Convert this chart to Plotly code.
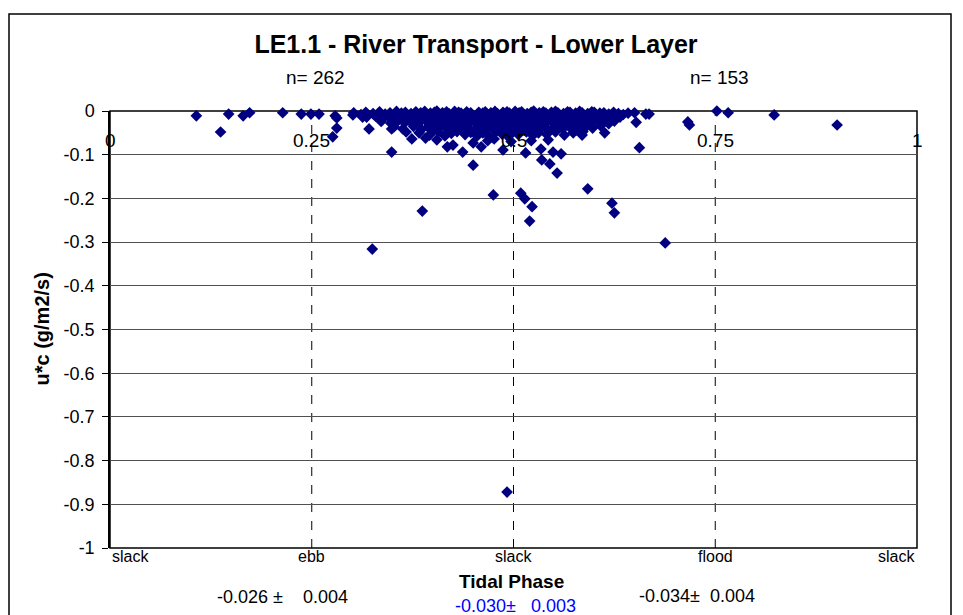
import plotly.graph_objects as go

# ---------------- data ----------------
# dense band of small (near-zero) transports around slack water
band_points = [
    (0.302,-0.004),(0.311,-0.008),(0.317,-0.003),(0.326,-0.006),(0.334,-0.002),(0.341,-0.007),
    (0.347,-0.004),(0.355,-0.001),(0.361,-0.005),(0.366,-0.003),(0.373,-0.006),(0.379,-0.002),
    (0.385,-0.004),(0.390,-0.001),(0.397,-0.005),(0.402,-0.003),(0.405,0.000),(0.412,-0.004),
    (0.417,-0.002),(0.420,-0.006),(0.427,-0.001),(0.432,-0.003),(0.435,-0.005),(0.442,-0.002),
    (0.447,-0.004),(0.450,0.001),(0.457,-0.003),(0.462,-0.005),(0.465,-0.002),(0.472,-0.004),
    (0.477,-0.001),(0.480,-0.006),(0.487,-0.003),(0.492,-0.002),(0.495,-0.005),(0.502,-0.001),
    (0.507,-0.004),(0.510,-0.002),(0.517,-0.006),(0.522,-0.003),(0.525,0.000),(0.532,-0.004),
    (0.537,-0.002),(0.540,-0.005),(0.547,-0.003),(0.552,-0.001),(0.555,-0.004),(0.562,-0.006),
    (0.567,-0.002),(0.570,-0.003),(0.577,-0.005),(0.582,-0.001),(0.585,-0.004),(0.592,-0.006),
    (0.597,-0.002),(0.600,-0.003),(0.607,-0.005),(0.612,-0.004),(0.618,-0.007),(0.624,-0.003),
    (0.630,-0.006),(0.636,-0.008),(0.642,-0.005),
    (0.318,-0.014),(0.329,-0.012),(0.338,-0.017),(0.345,-0.013),(0.352,-0.018),(0.358,-0.011),
    (0.364,-0.016),(0.370,-0.013),(0.376,-0.019),(0.382,-0.012),(0.388,-0.016),(0.393,-0.014),
    (0.399,-0.019),(0.404,-0.012),(0.409,-0.017),(0.414,-0.013),(0.419,-0.018),(0.424,-0.011),
    (0.429,-0.016),(0.434,-0.014),(0.439,-0.019),(0.444,-0.012),(0.449,-0.017),(0.454,-0.013),
    (0.459,-0.018),(0.464,-0.011),(0.469,-0.016),(0.474,-0.014),(0.479,-0.019),(0.484,-0.012),
    (0.489,-0.017),(0.494,-0.013),(0.499,-0.018),(0.504,-0.011),(0.509,-0.016),(0.514,-0.014),
    (0.519,-0.019),(0.524,-0.012),(0.529,-0.017),(0.534,-0.013),(0.539,-0.018),(0.544,-0.011),
    (0.549,-0.016),(0.554,-0.014),(0.559,-0.019),(0.564,-0.012),(0.569,-0.017),(0.574,-0.013),
    (0.580,-0.018),(0.586,-0.012),(0.592,-0.016),(0.598,-0.013),(0.604,-0.018),(0.610,-0.012),
    (0.617,-0.015),(0.624,-0.011),(0.632,-0.014),
    (0.336,-0.024),(0.348,-0.028),(0.357,-0.022),(0.365,-0.027),(0.372,-0.023),(0.378,-0.030),
    (0.384,-0.025),(0.391,-0.022),(0.397,-0.028),(0.403,-0.024),(0.410,-0.031),(0.416,-0.023),
    (0.422,-0.027),(0.428,-0.022),(0.433,-0.029),(0.438,-0.024),(0.443,-0.031),(0.448,-0.022),
    (0.453,-0.027),(0.458,-0.024),(0.463,-0.030),(0.468,-0.023),(0.473,-0.028),(0.478,-0.022),
    (0.483,-0.026),(0.488,-0.031),(0.493,-0.023),(0.498,-0.027),(0.503,-0.022),(0.508,-0.029),
    (0.513,-0.024),(0.518,-0.031),(0.523,-0.022),(0.528,-0.027),(0.533,-0.024),(0.538,-0.029),
    (0.543,-0.022),(0.548,-0.026),(0.553,-0.031),(0.559,-0.023),(0.565,-0.028),(0.571,-0.022),
    (0.577,-0.026),(0.584,-0.030),(0.590,-0.023),(0.597,-0.027),(0.604,-0.022),(0.611,-0.025),
    (0.618,-0.029),(0.625,-0.023),
    (0.352,-0.036),(0.363,-0.041),(0.376,-0.035),(0.386,-0.042),(0.394,-0.037),(0.401,-0.044),
    (0.409,-0.035),(0.417,-0.040),(0.425,-0.036),(0.431,-0.043),(0.437,-0.034),(0.444,-0.039),
    (0.451,-0.045),(0.457,-0.036),(0.464,-0.041),(0.470,-0.034),(0.476,-0.043),(0.482,-0.037),
    (0.489,-0.042),(0.495,-0.035),(0.501,-0.040),(0.507,-0.045),(0.512,-0.036),(0.519,-0.041),
    (0.526,-0.034),(0.532,-0.042),(0.539,-0.037),(0.546,-0.044),(0.553,-0.035),(0.561,-0.040),
    (0.569,-0.036),(0.578,-0.043),(0.588,-0.035),(0.598,-0.039),(0.608,-0.034),
    (0.383,-0.050),(0.396,-0.055),(0.407,-0.048),(0.415,-0.057),(0.423,-0.051),(0.430,-0.047),
    (0.440,-0.054),(0.447,-0.049),(0.455,-0.057),(0.462,-0.050),(0.468,-0.055),(0.478,-0.048),
    (0.486,-0.053),(0.493,-0.058),(0.499,-0.049),(0.506,-0.054),(0.516,-0.048),(0.524,-0.056),
    (0.531,-0.050),(0.541,-0.053),(0.552,-0.048),(0.563,-0.055),(0.574,-0.050),(0.586,-0.047),
    (0.405,-0.066),(0.418,-0.082),(0.425,-0.078),(0.450,-0.073),(0.460,-0.082),(0.437,-0.094),
    (0.487,-0.089),(0.515,-0.096),(0.534,-0.087),(0.549,-0.094),(0.559,-0.098),(0.543,-0.066),
    (0.476,-0.064),(0.497,-0.070),(0.522,-0.068),(0.468,-0.068),(0.391,-0.062),
]

# scattered individual observations
outlier_points = [
    (0.107,-0.011),(0.137,-0.048),(0.147,-0.007),(0.165,-0.011),(0.173,-0.004),(0.214,-0.004),
    (0.237,-0.007),(0.249,-0.007),(0.259,-0.007),(0.279,-0.011),(0.281,-0.016),(0.281,-0.039),
    (0.276,-0.059),(0.301,-0.009),(0.313,-0.014),(0.321,-0.041),(0.349,-0.041),(0.349,-0.094),
    (0.367,-0.048),(0.374,-0.064),(0.387,-0.229),(0.325,-0.316),(0.450,-0.124),(0.475,-0.192),
    (0.509,-0.188),(0.514,-0.201),(0.523,-0.219),(0.520,-0.252),(0.535,-0.112),(0.545,-0.121),
    (0.554,-0.142),(0.592,-0.178),(0.622,-0.211),(0.625,-0.233),(0.688,-0.302),(0.492,-0.872),
    (0.613,-0.050),(0.656,-0.084),(0.650,-0.004),(0.652,-0.026),(0.664,-0.007),(0.668,-0.007),
    (0.716,-0.025),(0.718,-0.032),(0.752,0.000),(0.766,-0.004),(0.823,-0.009),(0.901,-0.032),
    (0.566,-0.032),(0.591,-0.034),(0.585,-0.055),
]

phase_ticks = [0, 0.25, 0.5, 0.75, 1]
phase_tick_labels = ["0", "0.25", "0.5", "0.75", "1"]
phase_names = ["slack", "ebb", "slack", "flood", "slack"]
dashed_phases = [0.25, 0.5, 0.75]

flux_ticks = [0, -0.1, -0.2, -0.3, -0.4, -0.5, -0.6, -0.7, -0.8, -0.9, -1]
flux_tick_labels = ["0", "-0.1", "-0.2", "-0.3", "-0.4", "-0.5", "-0.6", "-0.7", "-0.8", "-0.9", "-1"]

count_phases = [0.25, 0.75]
count_labels = ["n= 262", "n= 153"]

mean_phases = [0.214, 0.502, 0.727]
mean_labels = ["-0.026 ±\u00a0\u00a0\u00a0 0.004", "-0.030±\u00a0\u00a0 0.003", "-0.034±\u00a0 0.004"]

# --------------- figure ---------------
FONT = "Liberation Sans, Arial, sans-serif"
NAVY = "#000080"
OFF = 8  # page body margin offset of the figure inside the browser window

phase = [p for p, _ in band_points] + [p for p, _ in outlier_points]
flux = [f for _, f in band_points] + [f for _, f in outlier_points]

fig = go.Figure()
fig.add_trace(go.Scatter(
    x=phase, y=flux, mode="markers",
    marker=dict(symbol="diamond", size=9, color=NAVY, line=dict(width=0)),
    showlegend=False, cliponaxis=False,
))

W, H = 963 - OFF, 615 - OFF
fig.update_layout(
    width=W, height=H,
    margin=dict(l=110 - OFF, r=46, t=111 - OFF, b=67),
    paper_bgcolor="white", plot_bgcolor="white",
    font=dict(family=FONT, size=17, color="black"),
    showlegend=False,
    title=dict(text="<b>LE1.1 - River Transport - Lower Layer</b>",
               x=(476 - OFF) / W, xanchor="center", y=1 - (44 - OFF) / H, yanchor="middle",
               font=dict(family=FONT, size=25, color="black")),
    xaxis=dict(range=[0, 1], showgrid=False, zeroline=False, showticklabels=False,
               ticks="", showline=False, fixedrange=True),
    yaxis=dict(range=[-1, 0], tickvals=flux_ticks, ticktext=flux_tick_labels,
               showgrid=True, gridcolor="#505050", gridwidth=1, zeroline=False,
               ticks="outside", ticklen=6, tickcolor="black", showline=True,
               linecolor="black", linewidth=1.5, tickfont=dict(size=18),
               ticklabelstandoff=4),
)

# plot-area box and outer chart border
fig.add_shape(type="rect", xref="paper", yref="paper", x0=0, x1=1, y0=0, y1=1,
              line=dict(color="black", width=1.5), layer="below")
fig.add_shape(type="rect", xref="paper", yref="paper",
              x0=(9 - 110) / 807, x1=(951 - 110) / 807, y0=(548 - 625) / 437, y1=(548 - 14) / 437,
              line=dict(color="black", width=1.5), layer="below")

for xp in dashed_phases:
    fig.add_shape(type="line", xref="x", yref="paper", x0=xp, x1=xp, y0=0, y1=1,
                  line=dict(color="black", width=1, dash="dash"), layer="below")

# top-axis tick labels (axis crosses at y = 0)
for xp, lab in zip(phase_ticks, phase_tick_labels):
    fig.add_annotation(x=xp, y=1, xref="x", yref="paper", text=lab, showarrow=False,
                       xanchor="center", yanchor="middle", yshift=-29,
                       font=dict(size=19))

# bottom phase names
anchors = ["left"] + ["center"] * (len(phase_names) - 2) + ["right"]
for xp, lab, anc in zip(phase_ticks, phase_names, anchors):
    fig.add_annotation(x=xp, y=0, xref="x", yref="paper", text=lab, showarrow=False,
                       xanchor=anc, yanchor="middle", yshift=-8, font=dict(size=16))

# counts
for xp, lab in zip(count_phases, count_labels):
    fig.add_annotation(x=xp, y=1, xref="x", yref="paper", text=lab, showarrow=False,
                       xanchor="center", yanchor="middle", yshift=34, xshift=4,
                       font=dict(size=19))

# axis titles
fig.add_annotation(x=0.497, y=0, xref="x", yref="paper", text="<b>Tidal Phase</b>",
                   showarrow=False, xanchor="center", yanchor="middle", yshift=-33,
                   font=dict(size=19))
fig.add_annotation(x=(41 - 110) / 807, y=0.5, xref="paper", yref="paper",
                   text="<b>u*c (g/m2/s)</b>", textangle=-90, showarrow=False,
                   xanchor="center", yanchor="middle", font=dict(size=20))

# mean ± error labels
mean_colors = ["black", "#0000FF", "black"]
mean_shift = [-49, -58, -48]
for xp, lab, col, ys in zip(mean_phases, mean_labels, mean_colors, mean_shift):
    fig.add_annotation(x=xp, y=0, xref="x", yref="paper", text=lab, showarrow=False,
                       xanchor="center", yanchor="middle", yshift=ys,
                       font=dict(size=18, color=col))

fig.write_html("out.html")
